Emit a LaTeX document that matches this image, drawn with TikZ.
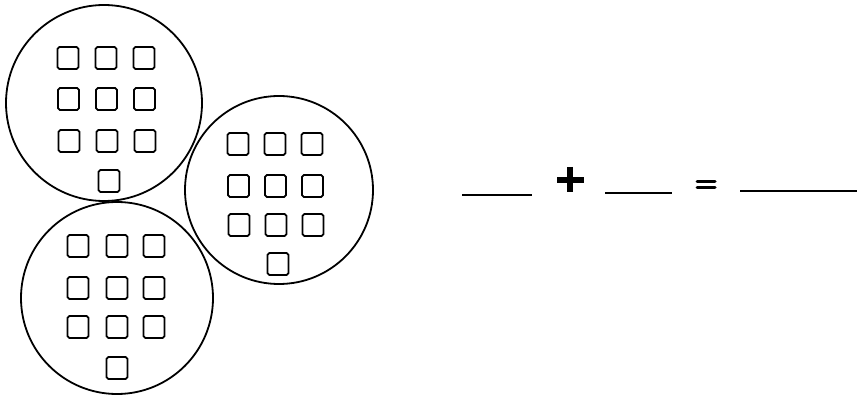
\documentclass[tikz,border=0pt]{standalone}
\begin{document}
\begin{tikzpicture}[x=1pt,y=-1pt,
  bigcirc/.style={draw,circle,line width=1.8pt,inner sep=0pt},
  sq/.style={draw,rectangle,rounded corners=1.8pt,line width=1.8pt,minimum width=21pt,minimum height=22pt,inner sep=0pt},
  blank/.style={line width=1.6pt}]
\useasboundingbox (0,0) rectangle (865,398);
% circles
\node[bigcirc,minimum size=196pt] (c1) at (104,103) {};
\node[bigcirc,minimum size=192pt] (c2) at (117,298) {};
\node[bigcirc,minimum size=188pt] (c3) at (279,190) {};
% squares in circle 1
\foreach \r/\y in {1/58,2/99,3/141}{
  \foreach \c/\x in {1/68,2/106,3/144}{
    \node[sq] (a\r\c) at (\x+0.5*\r-0.5,\y) {};
  }
}
\node[sq] (a4) at (109,181) {};
% squares in circle 2
\foreach \r/\y in {1/246,2/288,3/327}{
  \foreach \c/\x in {1/78,2/117,3/154}{
    \node[sq] (b\r\c) at (\x,\y) {};
  }
}
\node[sq] (b4) at (117,368) {};
% squares in circle 3
\foreach \r/\y in {1/144,2/186,3/225}{
  \foreach \c/\x in {1/238,2/275,3/312}{
    \node[sq] (d\r\c) at (\x+0.5*\r-0.5,\y) {};
  }
}
\node[sq] (d4) at (278,264) {};
% equation
\coordinate (l1a) at (462,195); \coordinate (l1b) at (532,195);
\coordinate (l2a) at (605,193); \coordinate (l2b) at (672,193);
\coordinate (l3a) at (740,191); \coordinate (l3b) at (857,191);
\draw[blank] (l1a) -- (l1b);
\draw[blank] (l2a) -- (l2b);
\draw[blank] (l3a) -- (l3b);
\coordinate (ph1) at (557,180); \coordinate (ph2) at (584,180);
\coordinate (pv1) at (570,167); \coordinate (pv2) at (570,192);
\draw[line width=6pt] (ph1) -- (ph2);
\draw[line width=6pt] (pv1) -- (pv2);
\coordinate (e1a) at (697,182) ; \coordinate (e1b) at (715,182);
\coordinate (e2a) at (697,187.5); \coordinate (e2b) at (715,187.5);
\draw[line width=3pt,line cap=round] (e1a) -- (e1b);
\draw[line width=3pt,line cap=round] (e2a) -- (e2b);
\end{tikzpicture}
\end{document}
